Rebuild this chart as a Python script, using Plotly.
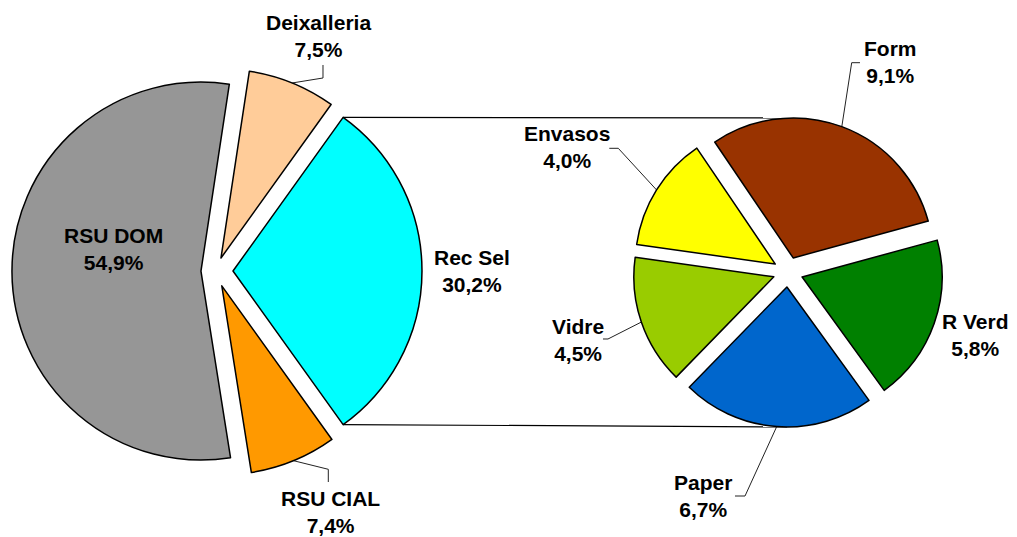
import math
import plotly.graph_objects as go

# ---------------- data ----------------
main_labels = ["Rec Sel", "RSU CIAL", "RSU DOM", "Deixalleria"]
main_values = [30.2, 7.4, 54.9, 7.5]
main_colors = ["#00FFFF", "#FF9900", "#969696", "#FFCC99"]

sub_labels = ["Form", "R Verd", "Paper", "Vidre", "Envasos"]
sub_values = [9.1, 5.8, 6.7, 4.5, 4.0]
sub_colors = ["#993300", "#008000", "#0066CC", "#99CC00", "#FFFF00"]

# ---------------- layout parameters (pixels) ----------------
W, H = 1017, 537
L_CX, L_CY, L_R = 215.7, 271.0, 189.0
main_pull = [0.0915, 0.085, 0.078, 0.074]
R_CX, R_CY, R_R = 788.0, 272.0, 140.0
sub_pull = [0.107] * 5

FONT = "Liberation Sans, Arial, sans-serif"
FS = 21


def px(x):
    return x / W


def py(y):
    return 1 - y / H


def domain(cx, cy, r, pulls, extra_w=1.04):
    box = 2 * r * (1 + max(pulls))
    hw = box * extra_w / 2
    x0, x1 = max(cx - hw, 0), min(cx + hw, W)
    half = min(cx - x0, x1 - cx)
    return dict(x=[px(cx - half), px(cx + half)],
                y=[py(cy + box / 2), py(cy - box / 2)])


def geometry(values, pulls, rotation, cx, cy, r):
    """bearing (clockwise from 12 o'clock) of slice edges, pulled centres"""
    tot = sum(values)
    out = []
    cum = rotation
    for v, p in zip(values, pulls):
        a = v / tot * 360
        b0, b1 = cum, cum + a
        bm = (b0 + b1) / 2
        rad = math.radians(bm)
        pcx = cx + p * r * math.sin(rad)
        pcy = cy - p * r * math.cos(rad)
        out.append(dict(b0=b0, b1=b1, bm=bm, cx=pcx, cy=pcy))
        cum = b1
    return out


def on_arc(g, r, bearing):
    rad = math.radians(bearing)
    return g["cx"] + r * math.sin(rad), g["cy"] - r * math.cos(rad)


main_rot = 90 - main_values[0] / sum(main_values) * 360 / 2
sub_rot = -34.1

fig = go.Figure()
fig.add_trace(go.Pie(
    labels=main_labels, values=main_values, sort=False, direction="clockwise",
    rotation=main_rot, pull=main_pull, textinfo="none", hoverinfo="label+value",
    marker=dict(colors=main_colors, line=dict(color="black", width=1.5)),
    domain=domain(L_CX, L_CY, L_R, main_pull), showlegend=False,
))
fig.add_trace(go.Pie(
    labels=sub_labels, values=sub_values, sort=False, direction="clockwise",
    rotation=sub_rot, pull=sub_pull, textinfo="none", hoverinfo="label+value",
    marker=dict(colors=sub_colors, line=dict(color="black", width=1.5)),
    domain=domain(R_CX, R_CY, R_R, sub_pull), showlegend=False,
))

gm = dict(zip(main_labels, geometry(main_values, main_pull, main_rot, L_CX, L_CY, L_R)))
gs = dict(zip(sub_labels, geometry(sub_values, sub_pull, sub_rot, R_CX, R_CY, R_R)))

shapes = []


def polyline(points, width=1, color="#222222"):
    d = "M " + " L ".join(f"{px(x):.5f},{py(y):.5f}" for x, y in points)
    shapes.append(dict(type="path", path=d, xref="paper", yref="paper",
                       line=dict(color=color, width=width), layer="below"))


# connector lines between the Rec Sel slice and the secondary pie
rs = gm["Rec Sel"]
top_a = on_arc(rs, L_R, rs["b0"])
bot_a = on_arc(rs, L_R, rs["b1"])
top_b = (gs["Form"]["cx"], gs["Form"]["cy"] - R_R)
bot_b = (gs["Paper"]["cx"], gs["Paper"]["cy"] + R_R)
polyline([top_a, top_b], width=1.2, color="black")
polyline([bot_a, bot_b], width=1.2, color="black")

# label positions (text block centre) and leader line elbows
label_pos = {
    "RSU DOM": (113, 249, None),
    "Deixalleria": (318, 36, [(323, 78), (323, 65)]),
    "Rec Sel": (472, 270.5, None),
    "RSU CIAL": (330, 512, [(328.3, 469.3), (328.3, 482)]),
    "Form": (890, 62, [(851.7, 62.7), (860, 62.7)]),
    "Envasos": (567, 147, [(618.3, 148.3), (609.3, 148.3)]),
    "Vidre": (578, 339.5, [(608, 339), (603, 339)]),
    "R Verd": (975.5, 335, None),
    "Paper": (703, 496, [(745, 496), (735, 496)]),
}

annotations = []
for labels, values, geo, r in ((main_labels, main_values, gm, L_R),
                               (sub_labels, sub_values, gs, R_R)):
    for lab, val in zip(labels, values):
        x, y, elbow = label_pos[lab]
        txt = f"<b>{lab}<br>{val:.1f}%</b>".replace(".", ",")
        annotations.append(dict(x=px(x), y=py(y), xref="paper", yref="paper",
                                text=txt, showarrow=False, align="center",
                                xanchor="center", yanchor="middle",
                                font=dict(family=FONT, size=FS, color="black")))
        if elbow:
            g = geo[lab]
            polyline([on_arc(g, r, g["bm"])] + elbow, width=1, color="#222222")

fig.update_layout(
    width=W, height=H, margin=dict(l=0, r=0, t=0, b=0),
    paper_bgcolor="white", plot_bgcolor="white",
    shapes=shapes, annotations=annotations,
)

fig.write_html(
    "out.html",
    config={"displayModeBar": False},
    post_script="document.body.style.margin='0px';document.body.style.padding='0px';"
                "document.body.style.overflow='hidden';",
)
